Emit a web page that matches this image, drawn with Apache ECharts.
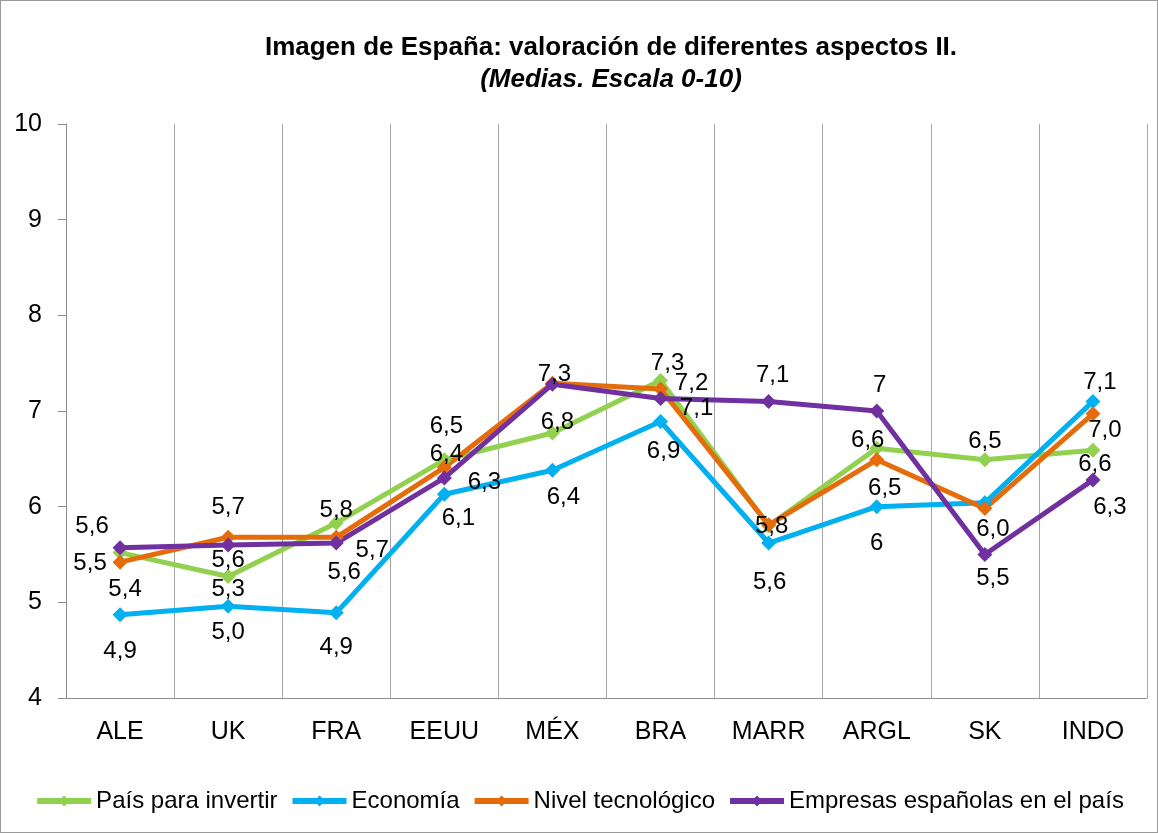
<!DOCTYPE html>
<html>
<head>
<meta charset="utf-8">
<script src="https://cdn.jsdelivr.net/npm/echarts@6/dist/echarts.min.js"></script>
<style>
  html, body { margin: 0; padding: 0; background: #fff; }
  #chart { width: 1156px; height: 831px; border: 1px solid #9a9a9a; }
</style>
</head>
<body>
<div id="chart"></div>
<script>
// datos
const paises = ['ALE', 'UK', 'FRA', 'EEUU', 'MÉX', 'BRA', 'MARR', 'ARGL', 'SK', 'INDO'];
const invertir = [5.52, 5.27, 5.83, 6.49, 6.77, 7.32, 5.80, 6.61, 6.49, 6.59];
const economia = [4.87, 4.96, 4.89, 6.13, 6.38, 6.89, 5.62, 6, 6.04, 7.1];
const tecnologico = [5.42, 5.68, 5.68, 6.41, 7.29, 7.23, 5.81, 6.49, 5.98, 6.97];
const empresas = [5.57, 5.6, 5.62, 6.3, 7.28, 7.13, 7.1, 7, 5.5, 6.28];
const yTicks = [4, 5, 6, 7, 8, 9, 10];

// desplazamiento de cada etiqueta respecto al punto (movidas a mano en el original)
// null = etiqueta tapada / no visible
const offInvertir = [[-30, 11], [0, 13], [0, -13], [2, -33], [5, -11], [7, -17], null, [-9, -8], [0, -18], [2, 14]];
const offEconomia = [[0, 37], [0, 26], [0, 35], [14, 24], [11, 27], [3, 30], [1, 39], [0, 37], null, [7, -19]];
const offTecno = [[5, 27], [0, -30], [36, 13], [2, -13], [2, -9], [31, -6], [3, 2], [8, 29], [8, 21], [12, 17]];
const offEmpresas = [[-28, -21], [0, 15], [8, 29], [40, 4], null, [36, 10], [4, -26], [3, -26], [8, 24], [17, 27]];

const FONT = 'Liberation Sans, Arial, Helvetica';

function fmt(p) {
  var v = p.value;
  if (Number.isInteger(v)) return String(v);
  return v.toFixed(1).replace('.', ',');
}

function mkData(vals, off) {
  return vals.map(function (v, i) {
    var lab = off[i] ? { show: true, position: 'inside', offset: off[i] } : { show: false };
    return { value: v, label: lab };
  });
}

function serie(name, color, vals, off) {
  return {
    name: name,
    type: 'line',
    data: mkData(vals, off),
    symbol: 'diamond',
    symbolSize: 15,
    lineStyle: { width: 5, color: color },
    itemStyle: { color: color },
    label: { color: '#000', fontSize: 24, fontFamily: FONT, formatter: fmt },
    emphasis: { disabled: true },
    animation: false
  };
}

var myChart = echarts.init(document.getElementById('chart'));
var option = {
  backgroundColor: '#fff',
  title: {
    text: 'Imagen de España: valoración de diferentes aspectos II.',
    subtext: '(Medias. Escala 0-10)',
    left: 605,
    textAlign: 'center',
    top: 29,
    itemGap: 6,
    textStyle: { fontSize: 26, fontWeight: 'bold', color: '#000', fontFamily: FONT },
    subtextStyle: { fontSize: 26, fontWeight: 'bold', fontStyle: 'italic', color: '#000', fontFamily: FONT }
  },
  legend: {
    bottom: 14,
    left: 'center',
    itemWidth: 54,
    itemHeight: 14,
    itemGap: 12,
    lineStyle: { width: 6 },
    textStyle: { fontSize: 24, color: '#000', fontFamily: FONT },
    data: ['País para invertir', 'Economía', 'Nivel tecnológico', 'Empresas españolas en el país']
  },
  grid: { left: 65, right: 10, top: 123, bottom: 134 },
  xAxis: {
    type: 'category',
    data: paises,
    boundaryGap: true,
    axisLine: { lineStyle: { color: '#8c8c8c', width: 1 } },
    axisTick: { show: false },
    splitLine: { show: true, lineStyle: { color: '#a6a6a6', width: 1 } },
    axisLabel: { fontSize: 25, color: '#000', margin: 22, fontFamily: FONT }
  },
  yAxis: {
    type: 'value',
    min: yTicks[0],
    max: yTicks[yTicks.length - 1],
    interval: 1,
    axisLine: { show: true, lineStyle: { color: '#8c8c8c', width: 1 } },
    axisTick: { show: true, length: 8, lineStyle: { color: '#8c8c8c' } },
    splitLine: { show: false },
    axisLabel: { fontSize: 25, color: '#000', margin: 24, fontFamily: FONT }
  },
  series: [
    serie('País para invertir', '#92D050', invertir, offInvertir),
    serie('Economía', '#00B0F0', economia, offEconomia),
    serie('Nivel tecnológico', '#E46C0A', tecnologico, offTecno),
    serie('Empresas españolas en el país', '#7030A0', empresas, offEmpresas)
  ]
};
myChart.setOption(option);
</script>
</body>
</html>
